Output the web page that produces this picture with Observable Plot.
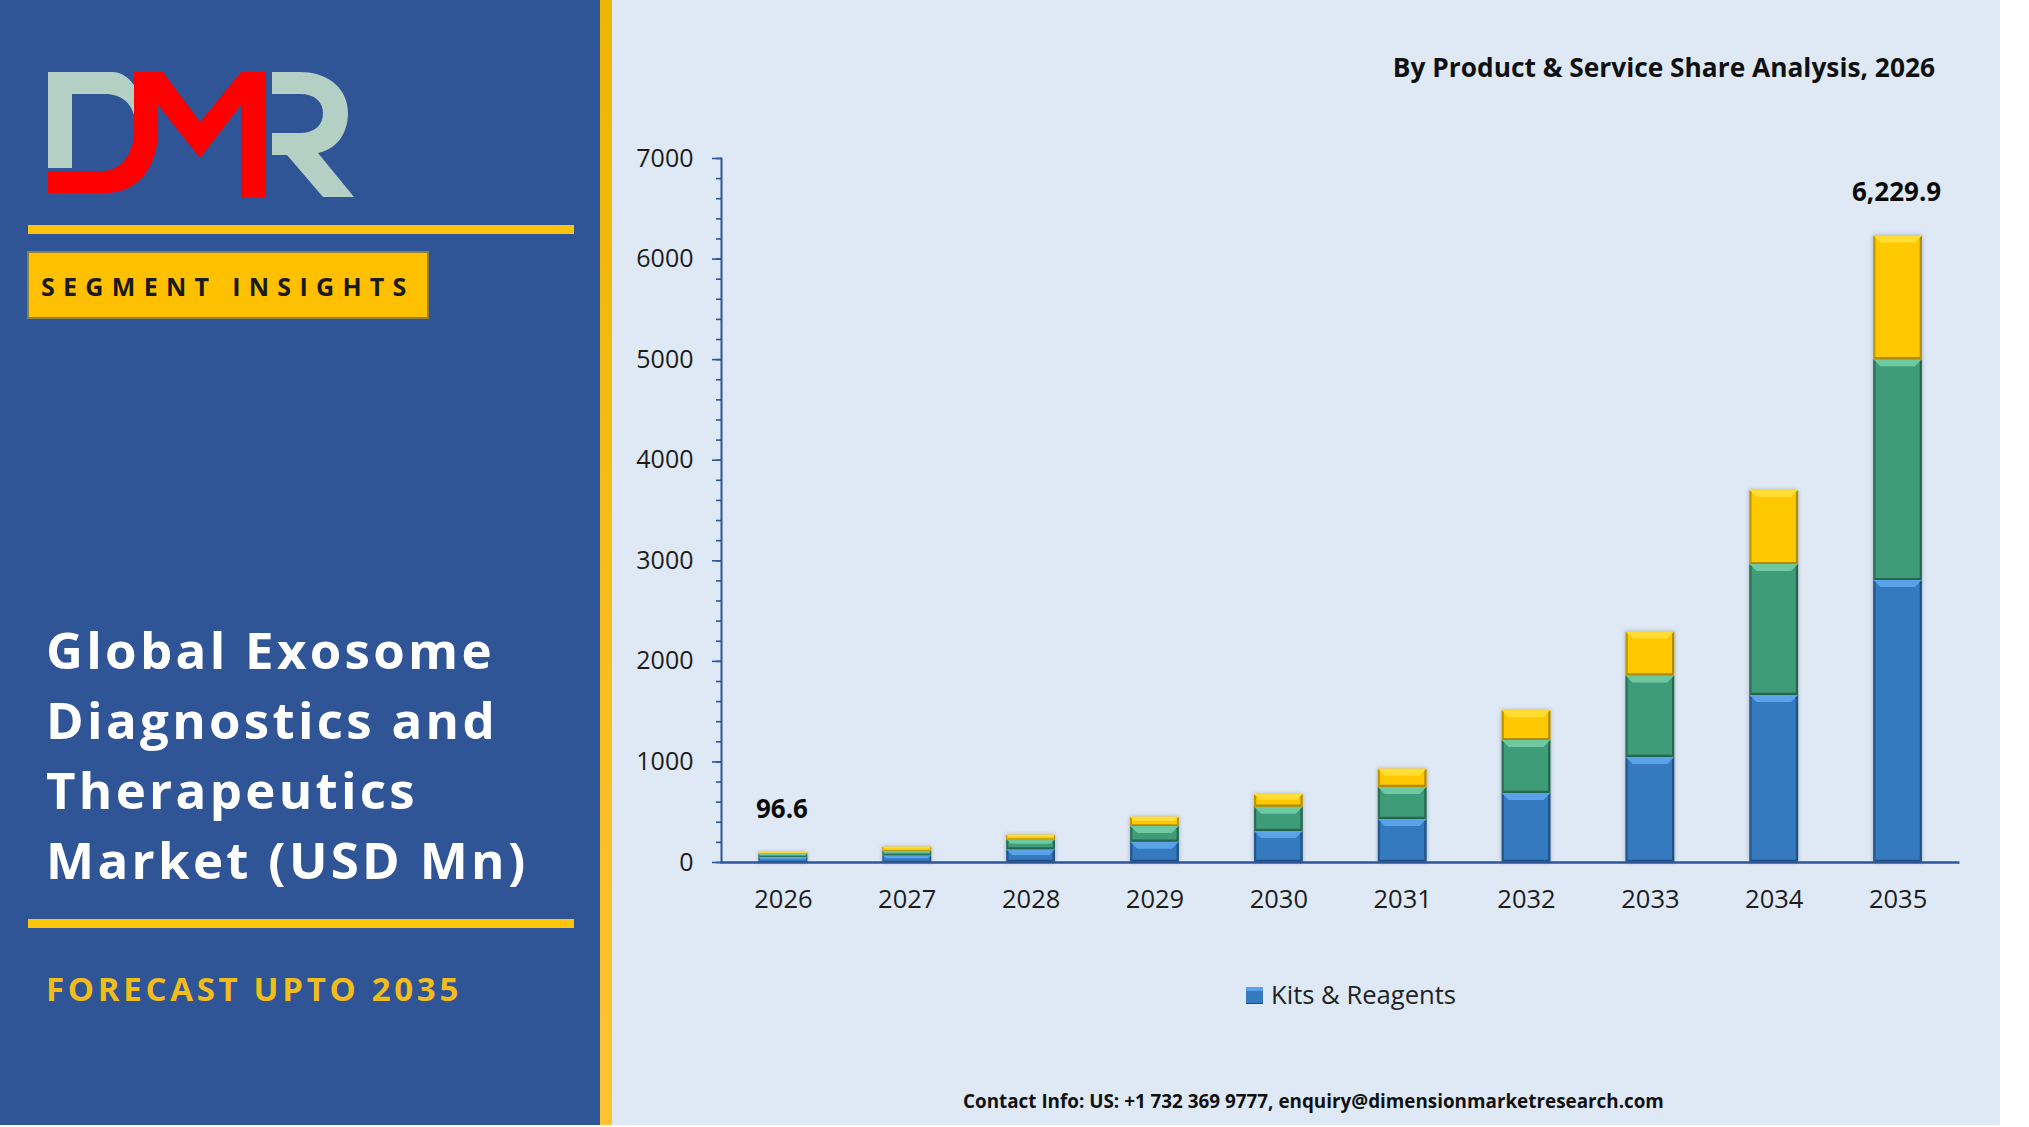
<!DOCTYPE html>
<html><head><meta charset="utf-8">
<script src="https://cdn.jsdelivr.net/npm/d3@7"></script>
<script src="https://cdn.jsdelivr.net/npm/@observablehq/plot@0.6"></script>
<style>
html,body{margin:0;padding:0;background:#fff;width:2029px;height:1127px;overflow:hidden;font-family:"Open Sans",sans-serif}
.abs{position:absolute;white-space:nowrap}
#right{left:612px;top:0;width:1388px;height:1125px;background:#DEE9F5}
#left{left:0;top:0;width:600px;height:1125px;background:#2F5597}
#strip{left:600px;top:0;width:12px;height:1125px;background:linear-gradient(#EDB600,#FFC233)}
.rule{left:28px;width:546px;height:9px;background:#FFC30B}
#badge{left:27px;top:251px;width:398px;height:64px;background:#FFC000;border:2px solid #8B8240}
#chart{left:612px;top:0}
</style></head><body>
<div id="right" class="abs"></div>
<div id="left" class="abs"></div>
<div id="strip" class="abs"></div>
<svg class="abs" style="left:0;top:0" width="600" height="240">
  <path fill="#B4CFC4" d="M48 72L112 72C122 72 129 78 134 85L134 115C130 100 118 94 105 94L72 94L72 168L48 168Z"/>
  <path fill="#B4CFC4" d="M272 72L300 72C330 72 348 90 348 113C348 135 335 150 318 153L354 197L323 197L287 155L272 155L272 133L300 133C315 133 323 125 323 113C323 102 315 94 300 94L272 94Z"/>
  <path fill="#FF0000" d="M48 193L105 193C140 193 158 165 158 130L158 105L200 158L241 105L241 197L266 197L266 72L241 72L200 122L163 72L134 72L134 130C134 155 120 171 103 171L48 171Z"/>
</svg>
<div class="abs rule" style="top:225px"></div>
<div id="badge" class="abs"></div>
<div class="abs" id="seg" style="left:41px;top:268px;font:700 25px/36px 'Open Sans';letter-spacing:8.3px;color:#1a1a1a">SEGMENT INSIGHTS</div>
<div class="abs" id="head" style="left:46px;top:613.5px;font:700 51px/70px 'Open Sans';letter-spacing:3.3px;color:#fff">Global Exosome<br>Diagnostics and<br>Therapeutics<br>Market (USD Mn)</div>
<div class="abs rule" style="top:919px"></div>
<div class="abs" id="fc" style="left:46px;top:966px;font:700 33px/46px 'Open Sans';letter-spacing:3.7px;color:#F2BC1B">FORECAST UPTO 2035</div>
<div id="chart" class="abs"></div>
<div class="abs" id="title" style="right:94px;top:48px;font:700 26.3px/38px 'Open Sans';color:#111">By Product &amp; Service Share Analysis, 2026</div>
<div class="abs" style="left:1246px;top:987px;width:17px;height:17px;background:#3579BF;box-shadow:inset 0 4px 0 #5BA3E8,inset 0 -1px 0 #1F4E80"></div>
<div class="abs" id="leg" style="left:1271px;top:977px;font:400 25.6px/36px 'Open Sans';color:#222">Kits &amp; Reagents</div>
<div class="abs" id="contact" style="left:963px;top:1088px;font:700 18.85px/26px 'Open Sans';color:#111">Contact Info: US: +1 732 369 9777, enquiry@dimensionmarketresearch.com</div>
<script>
const years = [2026,2027,2028,2029,2030,2031,2032,2033,2034,2035];
const kits = [50,68,126,202,308,427,686,1044,1660,2803];
const second = [32,44,99,156,242,319,526,810,1302,2197];
const third = [14.6,40,46,92,125,182,298,437,736,1229.9];
const seriesNames = ["Kits & Reagents","Segment 2","Segment 3"];
const seriesColors = ["#3579BF","#3F9C78","#FFC800"];
const seriesLight = ["#5BA3E8","#6FC9A0","#FFDD33"];
const seriesDark = ["#1F4E80","#256049","#A98400"];
const labelledYears = [2026,2035];
const yTicks = d3.range(0,7001,1000);
const yMinor = d3.range(0,7001,200);
const axisColor = "#2F5597";

const rows = [];
[kits,second,third].forEach((s,i)=>s.forEach((v,j)=>rows.push({year:years[j],value:v,series:seriesNames[i]})));
const totals = years.map((y,j)=>({year:y,total:kits[j]+second[j]+third[j]})).filter(d=>labelledYears.includes(d.year));

function bevel(index, scales, values, dimensions, context, next){
  const g = next(index, scales, values, dimensions, context);
  const ns = "http://www.w3.org/2000/svg";
  g.querySelectorAll("rect").forEach(r=>{
    const x=+r.getAttribute("x"),y=+r.getAttribute("y"),w=+r.getAttribute("width"),h=+r.getAttribute("height");
    const k=seriesColors.indexOf(r.getAttribute("fill"));
    const b=Math.min(7,h*0.45), e=Math.min(2.2,h*0.2);
    const add=(pts,fill,op)=>{const p=document.createElementNS(ns,"polygon");
      p.setAttribute("points",pts.map(q=>q.join(",")).join(" "));p.setAttribute("fill",fill);
      if(op)p.setAttribute("opacity",op);g.appendChild(p);};
    add([[x,y],[x+w,y],[x+w-b,y+b],[x+b,y+b]],seriesLight[k]);
    add([[x,y],[x+e,y+e],[x+e,y+h-e],[x,y+h]],seriesDark[k],0.75);
    add([[x+w,y],[x+w-e,y+e],[x+w-e,y+h-e],[x+w,y+h]],seriesDark[k],0.9);
    add([[x,y+h],[x+e,y+h-e],[x+w-e,y+h-e],[x+w,y+h]],seriesDark[k],0.9);
  });
  g.style.filter="drop-shadow(0 0 2px rgba(60,70,90,.35))";
  return g;
}

const plot = Plot.plot({
  width:1388, height:1127,
  marginLeft:109, marginRight:40.5, marginTop:158, marginBottom:265,
  style:{background:"transparent",fontFamily:"'Open Sans',sans-serif",overflow:"visible"},
  x:{type:"band",domain:years,paddingInner:0.607,paddingOuter:0.3035,align:0.5,round:false,label:null},
  y:{domain:[0,7000],label:null},
  color:{domain:seriesNames,range:seriesColors},
  marks:[
    Plot.axisY({ticks:yMinor,tickFormat:()=>"",tickSize:5,stroke:axisColor,strokeWidth:1.6,label:null}),
    Plot.axisY({ticks:yTicks,tickSize:9,tickPadding:19,stroke:axisColor,strokeWidth:1.6,fontSize:25,fill:"#1c1c1c",label:null,tickFormat:d=>String(d)}),
    Plot.axisX({tickSize:0,tickPadding:27,fontSize:25.5,fill:"#1c1c1c",label:null,tickFormat:d=>String(d)}),
    Plot.barY(rows,Plot.stackY({x:"year",y:"value",fill:"series",order:null,render:bevel})),
    Plot.frame({anchor:"left",stroke:axisColor,strokeWidth:2}),
    Plot.ruleY([0],{stroke:axisColor,strokeWidth:2.5}),
    Plot.text(totals,{x:"year",y:"total",text:d=>d3.format(",.1f")(d.total),dy:-43,dx:-1.5,fontSize:26,fontWeight:700,fill:"#0b0b0b"})
  ]
});
document.getElementById("chart").appendChild(plot);
</script>
</body></html>
